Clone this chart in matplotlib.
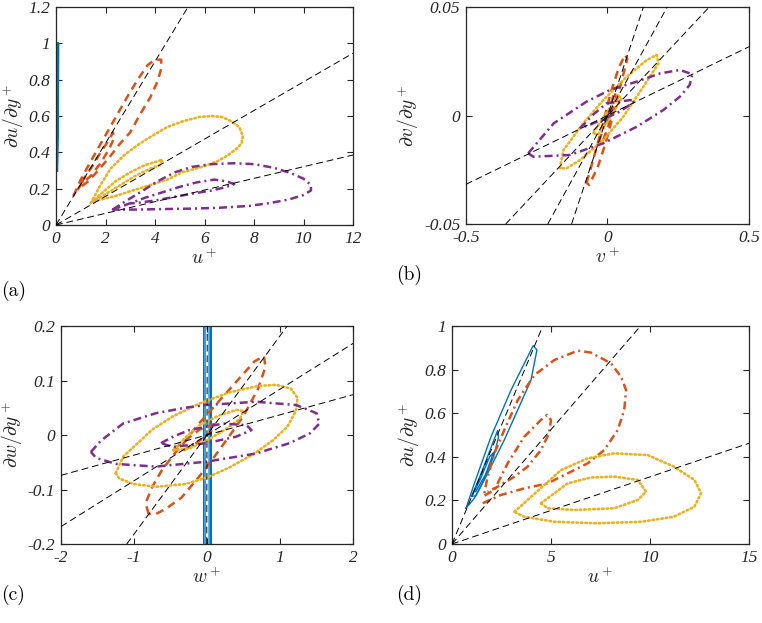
import matplotlib
matplotlib.use("Agg")
import matplotlib.pyplot as plt

# MATLAB default colours
BLUE, ORANGE, YELLOW, PURPLE = "#0072BD", "#D95319", "#EDB120", "#7E2F8E"

# ---- panel (a): u+ vs du/dy+ ----
A_BLUE = [(0.03, 0.30), (0.05, 0.5), (0.07, 0.75), (0.08, 1.0), (0.06, 1.0),
          (0.05, 0.75), (0.04, 0.5), (0.03, 0.30)]
A_ORANGE = [(0.70, 0.16), (1.0, 0.25), (1.4, 0.35), (1.9, 0.47), (2.4, 0.59), (2.9, 0.71),
            (3.3, 0.80), (3.7, 0.88), (4.0, 0.91), (4.25, 0.91), (4.25, 0.86), (4.1, 0.79),
            (3.8, 0.70), (3.4, 0.61), (3.0, 0.51), (2.6, 0.45), (2.2, 0.38), (1.7, 0.30),
            (1.3, 0.24), (1.0, 0.21), (1.1, 0.25), (1.5, 0.33), (1.8, 0.40), (2.1, 0.46),
            (2.3, 0.51), (2.35, 0.48), (2.15, 0.42), (1.8, 0.34), (1.4, 0.27), (1.0, 0.22),
            (0.75, 0.17)]
A_YELLOW = [(1.4, 0.12), (1.8, 0.22), (2.2, 0.31), (2.8, 0.39), (3.4, 0.45), (4.0, 0.50),
            (4.5, 0.54), (5.1, 0.57), (5.8, 0.595), (6.3, 0.60), (6.7, 0.595), (7.1, 0.57),
            (7.4, 0.54), (7.55, 0.49), (7.5, 0.45), (7.3, 0.42), (6.9, 0.38), (6.5, 0.35),
            (5.9, 0.32), (5.1, 0.29), (4.5, 0.25), (3.8, 0.22), (3.1, 0.19), (2.4, 0.16),
            (1.8, 0.14), (1.5, 0.13), (1.8, 0.17), (2.4, 0.24), (3.0, 0.29), (3.6, 0.33),
            (4.1, 0.35), (4.3, 0.36), (4.2, 0.33), (3.8, 0.31), (3.2, 0.27), (2.6, 0.22),
            (2.0, 0.17), (1.5, 0.13)]
A_PURPLE = [(2.3, 0.085), (2.8, 0.13), (3.4, 0.18), (4.1, 0.24), (4.8, 0.29), (5.5, 0.32),
            (6.3, 0.335), (7.2, 0.34), (8.0, 0.335), (8.8, 0.315), (9.5, 0.285), (10.0, 0.255),
            (10.3, 0.22), (10.3, 0.19), (10.0, 0.165), (9.4, 0.14), (8.6, 0.12), (7.8, 0.105),
            (6.6, 0.095), (5.5, 0.09), (4.4, 0.088), (3.3, 0.085), (2.3, 0.085), (3.0, 0.12),
            (3.6, 0.15), (4.3, 0.18), (5.0, 0.21), (5.7, 0.235), (6.4, 0.25), (6.9, 0.24),
            (7.2, 0.225), (6.9, 0.21), (6.3, 0.19), (5.6, 0.175), (4.8, 0.155), (4.0, 0.135),
            (3.2, 0.12), (3.0, 0.12)]
A_SLOPES = [0.225, 0.0788, 0.0321]

# ---- panel (b): v+ vs dv/dy+ ----
B_BLUE = [(-0.012, -0.002), (0.0, 0.001), (0.012, 0.003), (0.01, 0.0), (-0.005, -0.003),
          (-0.012, -0.002)]
B_ORANGE = [(-0.074, -0.031), (-0.05, -0.02), (-0.02, -0.006), (0.01, 0.01), (0.04, 0.022),
            (0.062, 0.028), (0.07, 0.026), (0.05, 0.016), (0.025, 0.003), (-0.005, -0.012),
            (-0.035, -0.024), (-0.065, -0.032), (-0.074, -0.031)]
B_ORANGE_IN = [(-0.03, -0.012), (0.0, 0.0), (0.025, 0.011), (0.03, 0.008), (0.005, -0.004),
               (-0.02, -0.013), (-0.03, -0.012)]
B_YELLOW = [(-0.168, -0.0243), (-0.156, -0.016), (-0.086, -0.0036), (-0.015, 0.0071),
            (0.068, 0.0179), (0.139, 0.0256), (0.174, 0.0279), (0.18, 0.024), (0.127, 0.0133),
            (0.056, -0.0005), (-0.015, -0.0113), (-0.097, -0.0205), (-0.144, -0.0243),
            (-0.168, -0.0243)]
B_YELLOW_IN = [(-0.05, -0.008), (-0.01, 0.0), (0.04, 0.009), (0.05, 0.008), (0.01, -0.001),
               (-0.035, -0.009), (-0.05, -0.008)]
B_PURPLE = [(-0.28, -0.0174), (-0.19, -0.0036), (-0.074, 0.0064), (0.009, 0.0118),
            (0.103, 0.0156), (0.186, 0.0194), (0.256, 0.021), (0.3, 0.019), (0.29, 0.014),
            (0.256, 0.0087), (0.197, 0.0025), (0.103, -0.0052), (-0.015, -0.0128),
            (-0.133, -0.0182), (-0.262, -0.019), (-0.28, -0.0174)]
B_PURPLE_IN = [(-0.097, -0.0059), (-0.05, 0.0005), (-0.003, 0.0056), (0.08, 0.0071),
               (0.097, 0.0066), (0.044, 0.0018), (-0.05, -0.0036), (-0.097, -0.0059)]
B_SLOPES = [0.0634, 0.139, 0.237, 0.394]

# ---- panel (c): w+ vs dw/dy+ ----
C_BLUE = [(-0.04, -0.3), (-0.04, 0.3), (0.04, 0.3), (0.04, -0.3), (-0.04, -0.3)]
C_BLUE_IN = [(-0.022, -0.3), (-0.022, 0.3), (0.022, 0.3), (0.022, -0.3), (-0.022, -0.3)]
C_ORANGE = [(-0.80, -0.145), (-0.84, -0.125), (-0.75, -0.095), (-0.62, -0.065),
            (-0.45, -0.035), (-0.30, -0.012), (-0.15, 0.015), (0.05, 0.045), (0.25, 0.075),
            (0.45, 0.105), (0.65, 0.135), (0.78, 0.145), (0.80, 0.125), (0.70, 0.085),
            (0.50, 0.035), (0.30, -0.003), (0.10, -0.04), (-0.10, -0.075), (-0.35, -0.115),
            (-0.56, -0.135), (-0.70, -0.145), (-0.80, -0.145)]
C_ORANGE_IN = [(-0.45, -0.025), (-0.3, -0.01), (-0.1, 0.01), (0.1, 0.02), (0.05, 0.005),
               (-0.15, -0.015), (-0.35, -0.03), (-0.45, -0.025)]
C_YELLOW = [(-1.25, -0.07), (-1.15, -0.04), (-0.95, -0.015), (-0.75, 0.01), (-0.47, 0.034),
            (-0.1, 0.058), (0.3, 0.078), (0.7, 0.09), (0.95, 0.092), (1.15, 0.085),
            (1.24, 0.068), (1.22, 0.045), (1.1, 0.015), (0.9, -0.01), (0.65, -0.034),
            (0.3, -0.06), (0.0, -0.078), (-0.3, -0.09), (-0.7, -0.095), (-1.0, -0.09),
            (-1.2, -0.08), (-1.25, -0.07)]
C_YELLOW_IN = [(-0.46, -0.028), (-0.3, -0.005), (-0.1, 0.018), (0.15, 0.035), (0.4, 0.046),
               (0.5, 0.044), (0.45, 0.03), (0.25, 0.01), (0.0, -0.01), (-0.25, -0.025),
               (-0.46, -0.028)]
C_PURPLE = [(-1.59, -0.031), (-1.45, -0.01), (-1.15, 0.021), (-0.70, 0.040), (-0.3, 0.05),
            (-0.01, 0.055), (0.67, 0.061), (1.22, 0.055), (1.50, 0.040), (1.54, 0.021),
            (1.41, 0.003), (1.13, -0.015), (0.67, -0.034), (-0.01, -0.049), (-0.70, -0.058),
            (-1.25, -0.053), (-1.52, -0.042), (-1.59, -0.031)]
C_PURPLE_IN = [(-0.63, -0.015), (-0.45, -0.002), (-0.24, 0.009), (0.22, 0.021), (0.54, 0.018),
               (0.61, 0.009), (0.40, -0.003), (-0.01, -0.015), (-0.47, -0.022), (-0.63, -0.015)]
C_SLOPES = [0.037, 0.084, 0.182, 60.0]

# ---- panel (d): u+ vs du/dy+ ----
D_BLUE = [(0.71, 0.164), (1.13, 0.278), (1.97, 0.492), (2.98, 0.706), (3.82, 0.859),
          (4.1, 0.91), (4.29, 0.89), (3.99, 0.752), (3.32, 0.615), (2.64, 0.477), (1.8, 0.324),
          (1.13, 0.21), (0.71, 0.164)]
D_BLUE_IN = [(1.0, 0.22), (1.5, 0.33), (2.0, 0.45), (2.3, 0.52), (2.35, 0.49), (2.1, 0.40),
             (1.6, 0.29), (1.2, 0.22), (1.0, 0.22), (1.4, 0.29), (1.9, 0.40), (2.1, 0.42),
             (1.7, 0.32), (1.2, 0.24)]
D_ORANGE = [(1.55, 0.187), (2.47, 0.225), (3.65, 0.255), (4.83, 0.278), (5.84, 0.324),
            (6.85, 0.37), (7.69, 0.431), (8.37, 0.523), (8.7, 0.615), (8.79, 0.706),
            (8.54, 0.767), (8.03, 0.829), (7.02, 0.878), (6.35, 0.887), (5.17, 0.844),
            (4.16, 0.775), (3.32, 0.66), (2.64, 0.523), (2.14, 0.416), (1.8, 0.309),
            (1.6, 0.22), (2.14, 0.248), (2.81, 0.37), (3.65, 0.492), (4.49, 0.569),
            (4.8, 0.592), (5.0, 0.569), (4.9, 0.508), (4.49, 0.431), (3.82, 0.355),
            (3.15, 0.309), (2.31, 0.263), (1.8, 0.24)]
D_YELLOW = [(3.15, 0.148), (4.0, 0.217), (5.5, 0.339), (6.85, 0.393), (8.2, 0.416),
            (9.88, 0.408), (11.2, 0.355), (12.24, 0.294), (12.58, 0.233), (12.24, 0.171),
            (11.2, 0.125), (9.55, 0.102), (7.36, 0.095), (5.17, 0.102), (3.65, 0.125),
            (3.15, 0.148)]
D_YELLOW_IN = [(4.49, 0.187), (5.84, 0.278), (7.0, 0.305), (8.2, 0.309), (9.38, 0.294),
               (9.8, 0.24), (9.38, 0.202), (8.2, 0.164), (6.18, 0.156), (4.83, 0.164),
               (4.49, 0.187)]
D_SLOPES = [0.218, 0.105, 0.0308]

plt.rcParams.update({"mathtext.fontset": "cm", "font.family": "serif",
                     "font.serif": ["Liberation Serif", "DejaVu Serif"]})

W, H = 762, 623
fig = plt.figure(figsize=(W / 100, H / 100), dpi=100)

# line styles mimicking MATLAB '-', '--', ':', '-.'
STYLES = {"-": "-", "--": (0, (3.2, 2.2)), ":": (0, (0.6, 1.1)), "-.": (0, (3.2, 1.6, 0.8, 1.6))}


def px_axes(l, t, r, b):
    return fig.add_axes([l / W, 1 - b / H, (r - l) / W, (b - t) / H])


def curve(ax, pts, color, ls, lw):
    xs = [p[0] for p in pts]
    ys = [p[1] for p in pts]
    ax.plot(xs, ys, color=color, lw=lw, linestyle=STYLES[ls],
            dash_capstyle="round" if ls == ":" else "butt", solid_joinstyle="round")


def refs(ax, slopes):
    for s in slopes:
        ax.axline((0, 0), slope=s, color="k", lw=0.7, linestyle=(0, (7, 4)), zorder=5)


def style(ax, xlim, ylim, xt, xtl, yt, ytl, xlabel, ylabel):
    ax.set_xlim(*xlim)
    ax.set_ylim(*ylim)
    ax.set_xticks(xt)
    ax.set_xticklabels(xtl, fontstyle="italic", fontsize=12.5, color="#262626")
    ax.set_yticks(yt)
    ax.set_yticklabels(ytl, fontstyle="italic", fontsize=12.5, color="#262626")
    ax.tick_params(direction="in", length=4, width=0.8, top=True, right=True, pad=4,
                   colors="#262626")
    for sp in ax.spines.values():
        sp.set_color("#262626")
        sp.set_linewidth(0.9)
    ax.set_xlabel(xlabel, fontsize=14, labelpad=1, color="#262626")
    ax.set_ylabel(ylabel, fontsize=14, labelpad=2, color="#262626")


# (a)
ax = px_axes(56, 7, 353, 225)
refs(ax, A_SLOPES)
curve(ax, A_BLUE, BLUE, "-", 2.0)
curve(ax, A_ORANGE, ORANGE, "--", 1.8)
curve(ax, A_YELLOW, YELLOW, ":", 1.9)
curve(ax, A_PURPLE, PURPLE, "-.", 1.8)
style(ax, (0, 12), (0, 1.2), [0, 2, 4, 6, 8, 10, 12], ["0", "2", "4", "6", "8", "10", "12"],
      [0, 0.2, 0.4, 0.6, 0.8, 1.0, 1.2], ["0", "0.2", "0.4", "0.6", "0.8", "1", "1.2"],
      r"$u^+$", r"$\partial u/\partial y^+$")

# (b)
ax = px_axes(466, 7, 749, 224)
refs(ax, B_SLOPES)
curve(ax, B_BLUE, BLUE, "-", 1.0)
curve(ax, B_ORANGE, ORANGE, "--", 1.8)
curve(ax, B_ORANGE_IN, ORANGE, "--", 1.8)
curve(ax, B_YELLOW, YELLOW, ":", 1.9)
curve(ax, B_YELLOW_IN, YELLOW, ":", 1.9)
curve(ax, B_PURPLE, PURPLE, "-.", 1.8)
curve(ax, B_PURPLE_IN, PURPLE, "-.", 1.8)
style(ax, (-0.5, 0.5), (-0.05, 0.05), [-0.5, 0, 0.5], ["-0.5", "0", "0.5"],
      [-0.05, 0, 0.05], ["-0.05", "0", "0.05"], r"$v^+$", r"$\partial v/\partial y^+$")

# (c)
ax = px_axes(61, 326, 353, 544)
refs(ax, C_SLOPES)
curve(ax, C_BLUE, BLUE, "-", 2.2)
curve(ax, C_BLUE_IN, "#4DA6E0", "-", 1.2)
curve(ax, C_ORANGE, ORANGE, "--", 1.8)
curve(ax, C_ORANGE_IN, ORANGE, "--", 1.8)
curve(ax, C_YELLOW, YELLOW, ":", 1.9)
curve(ax, C_YELLOW_IN, YELLOW, ":", 1.9)
curve(ax, C_PURPLE, PURPLE, "-.", 1.8)
curve(ax, C_PURPLE_IN, PURPLE, "-.", 1.8)
style(ax, (-2, 2), (-0.2, 0.2), [-2, -1, 0, 1, 2], ["-2", "-1", "0", "1", "2"],
      [-0.2, -0.1, 0, 0.1, 0.2], ["-0.2", "-0.1", "0", "0.1", "0.2"],
      r"$w^+$", r"$\partial w/\partial y^+$")

# (d)
ax = px_axes(452, 326, 749, 544)
refs(ax, D_SLOPES)
curve(ax, D_BLUE, BLUE, "-", 1.0)
curve(ax, D_BLUE_IN, BLUE, "-", 1.0)
curve(ax, D_ORANGE, ORANGE, "-.", 1.8)
curve(ax, D_YELLOW, YELLOW, ":", 1.9)
curve(ax, D_YELLOW_IN, YELLOW, ":", 1.9)
style(ax, (0, 15), (0, 1), [0, 5, 10, 15], ["0", "5", "10", "15"],
      [0, 0.2, 0.4, 0.6, 0.8, 1.0], ["0", "0.2", "0.4", "0.6", "0.8", "1"],
      r"$u^+$", r"$\partial u/\partial y^+$")

for label, x, y in [("(a)", 1, 291), ("(b)", 396, 275), ("(c)", 1, 595), ("(d)", 396, 595)]:
    fig.text(x / W, 1 - y / H, label, fontsize=14, family="cmr10", va="center", ha="left")

fig.savefig("out.png", dpi=100)
